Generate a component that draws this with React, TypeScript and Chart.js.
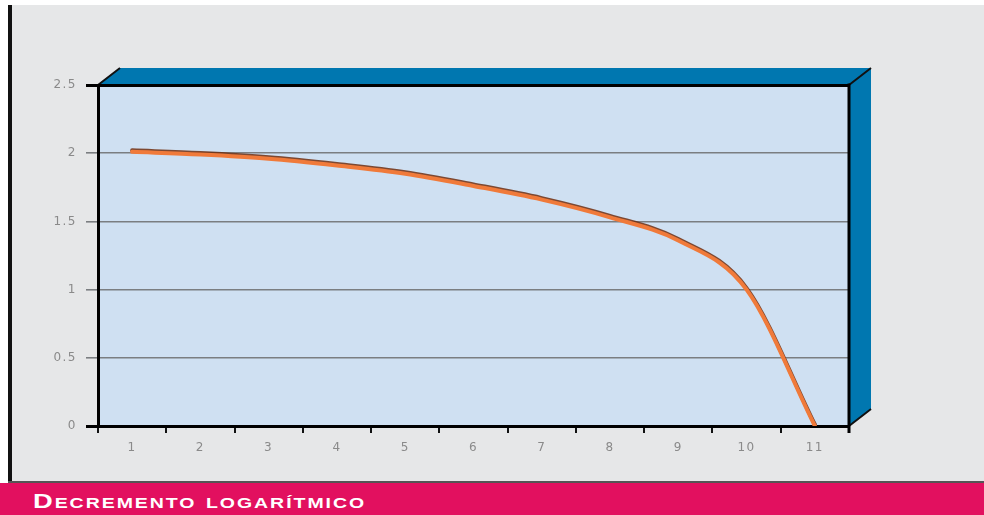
import React, { useEffect, useRef } from "react";
import { Chart, registerables } from "chart.js";

Chart.register(...registerables);

const categories = ["1", "2", "3", "4", "5", "6", "7", "8", "9", "10", "11"];
const values = [2.01, 1.99, 1.96, 1.91, 1.85, 1.76, 1.66, 1.53, 1.36, 1.0, 0];
const yTicks = [0, 0.5, 1, 1.5, 2, 2.5];
const title = "Decremento logarítmico";

const DEPTH_X = 22;
const DEPTH_Y = 17;

const frame3d = {
  id: "frame3d",
  beforeDraw(chart: any) {
    const { ctx, chartArea: a } = chart;
    ctx.letterSpacing = "1.5px";
    ctx.save();
    ctx.fillStyle = "#cfe0f2";
    ctx.fillRect(a.left, a.top, a.right - a.left, a.bottom - a.top);
    ctx.fillStyle = "#0077b0";
    ctx.beginPath();
    ctx.moveTo(a.left, a.top);
    ctx.lineTo(a.left + DEPTH_X, a.top - DEPTH_Y);
    ctx.lineTo(a.right + DEPTH_X, a.top - DEPTH_Y);
    ctx.lineTo(a.right + DEPTH_X, a.bottom - DEPTH_Y);
    ctx.lineTo(a.right, a.bottom);
    ctx.lineTo(a.right, a.top);
    ctx.closePath();
    ctx.fill();
    ctx.strokeStyle = "#111";
    ctx.lineWidth = 2;
    ctx.beginPath();
    ctx.moveTo(a.left, a.top);
    ctx.lineTo(a.left + DEPTH_X, a.top - DEPTH_Y);
    ctx.moveTo(a.right, a.top);
    ctx.lineTo(a.right + DEPTH_X, a.top - DEPTH_Y);
    ctx.moveTo(a.right, a.bottom);
    ctx.lineTo(a.right + DEPTH_X, a.bottom - DEPTH_Y);
    ctx.stroke();
    ctx.restore();
  },
  beforeDatasetDraw(chart: any) {
    const ctx = chart.ctx;
    ctx.save();
    ctx.shadowColor = "rgba(110,45,15,0.85)";
    ctx.shadowOffsetY = -1.5;
    ctx.shadowOffsetX = 0;
    ctx.shadowBlur = 0;
  },
  afterDatasetDraw(chart: any) {
    chart.ctx.restore();
  },
  afterDraw(chart: any) {
    const { ctx, chartArea: a } = chart;
    ctx.save();
    ctx.strokeStyle = "#000";
    ctx.lineWidth = 3;
    ctx.beginPath();
    ctx.moveTo(a.right, a.top - 1.5);
    ctx.lineTo(a.right, a.bottom + 7);
    ctx.stroke();
    ctx.restore();
  },
};

export default function App() {
  const ref = useRef<HTMLCanvasElement>(null);
  useEffect(() => {
    if (!ref.current) return;
    const chart = new Chart(ref.current, {
      type: "line",
      data: {
        labels: categories,
        datasets: [
          {
            data: values,
            borderColor: "#f07a3a",
            borderWidth: 4,
            pointRadius: 0,
            cubicInterpolationMode: "monotone",
            borderCapStyle: "round",
            fill: false,
          },
        ],
      },
      options: {
        animation: false,
        responsive: false,
        devicePixelRatio: 1,
        layout: { padding: { left: 0, right: 135, top: 85, bottom: 0 } },
        plugins: { legend: { display: false }, tooltip: { enabled: false }, title: { display: false } },
        scales: {
          x: {
            offset: true,
            grid: {
              offset: true,
              drawOnChartArea: false,
              tickLength: 7,
              color: "#111",
              lineWidth: 2,
            },
            border: { color: "#000", width: 3 },
            ticks: {
              color: "#8a8a8a",
              font: { family: "DejaVu Sans", size: 12 },
              padding: 8,
              maxRotation: 0,
            },
            afterFit(scale: any) {
              scale.height = 58;
            },
          },
          y: {
            min: 0,
            max: 2.5,
            afterBuildTicks(scale: any) {
              scale.ticks = yTicks.map((v) => ({ value: v }));
            },
            grid: {
              tickLength: 12,
              color: (c: any) => (c.tick && (c.tick.value === 0 || c.tick.value === 2.5) ? "#000" : "#7b7e81"),
              lineWidth: (c: any) => (c.tick && (c.tick.value === 0 || c.tick.value === 2.5) ? 3 : 1.6),
            },
            border: { color: "#000", width: 3 },
            ticks: {
              color: "#8a8a8a",
              font: { family: "DejaVu Sans", size: 12 },
              padding: 9,
              callback: (v: any) => String(v),
            },
            afterFit(scale: any) {
              scale.width = 98;
            },
          },
        },
      },
      plugins: [frame3d],
    });
    return () => chart.destroy();
  }, []);

  return (
    <div style={{ position: "fixed", left: 0, top: 0, width: 984, height: 515, background: "#fff", overflow: "hidden" }}>
      <div style={{ position: "absolute", left: 12, top: 5, right: 0, height: 476, background: "#e6e7e8" }} />
      <canvas ref={ref} width={984} height={484} style={{ position: "absolute", left: 0, top: 0, width: 984, height: 484 }} />
      <div style={{ position: "absolute", left: 8, top: 5, width: 4, height: 477, background: "#111" }} />
      <div style={{ position: "absolute", left: 8, top: 481, right: 0, height: 2, background: "#555" }} />
      <div style={{ position: "absolute", left: 0, top: 483, right: 0, height: 32, background: "#e2105f" }} />
      <div
        style={{
          position: "absolute",
          left: 33,
          top: 490,
          fontFamily: "'Liberation Sans', Arial, sans-serif",
          fontWeight: "bold",
          fontSize: 21,
          lineHeight: "21px",
          fontVariant: "small-caps",
          color: "#fff",
          letterSpacing: "1.5px",
          whiteSpace: "nowrap",
          transform: "scaleX(1.3)",
          transformOrigin: "left center",
        }}
      >
        {title}
      </div>
    </div>
  );
}
